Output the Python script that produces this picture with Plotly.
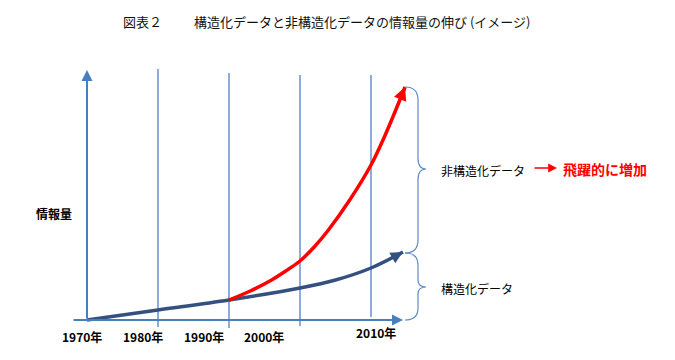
import plotly.graph_objects as go

# ---- data ----
struct_years = [1970, 1980, 1990, 2000, 2005, 2010, 2014.5]
struct_values = [0, 10, 20, 32, 40, 52, 68]
unstruct_years = [1990, 1993, 1996, 1998, 2000, 2002, 2004, 2007, 2010, 2012, 2014.8]
unstruct_values = [20, 29, 40, 49, 59, 73, 90, 120, 155, 185, 233]
tick_years = [1970, 1980, 1990, 2000, 2010]
tick_labels = ["1970年", "1980年", "1990年", "2000年", "2010年"]

OFF = 8  # page body margin
W, H = 675 - OFF, 360 - OFF
X0PX, PXPERYEAR = 87, 7.1
Y0PX = 320

def X(px):  # page pixel -> data x
    return 1970 + (px - X0PX) / PXPERYEAR

def Y(py):  # page pixel -> data y
    return Y0PX - py

def path(cmds):
    out = []
    for c in cmds:
        if isinstance(c, str):
            out.append(c)
        else:
            out.append(f"{X(c[0]):.4f},{Y(c[1]):.4f}")
    return " ".join(out)

FONT = "Noto Sans CJK JP"
AXC = "#4A7EBB"
GRIDC = "#4472C4"
BLUE = "#34507F"
RED = "#FF0000"

fig = go.Figure()

fig.add_trace(go.Scatter(x=struct_years, y=struct_values, mode="lines",
                         line=dict(color=BLUE, width=3.5, shape="spline", smoothing=1.0),
                         hoverinfo="skip", showlegend=False))
fig.add_trace(go.Scatter(x=unstruct_years, y=unstruct_values, mode="lines",
                         line=dict(color=RED, width=3.5, shape="spline", smoothing=1.0),
                         hoverinfo="skip", showlegend=False))

shapes = []
guide_spans = {1980: (69, 327), 1990: (73, 328), 2000: (75, 326), 2010: (75, 317)}
for yr in tick_years[1:]:
    top, bot = guide_spans[yr]
    shapes.append(dict(type="line", xref="x", yref="y", x0=yr, x1=yr, y0=Y(bot), y1=Y(top),
                       line=dict(color=GRIDC, width=1.2), layer="below"))

BR = "#5B8BC9"
shapes.append(dict(type="path", xref="x", yref="y", line=dict(color=BR, width=1.2),
                   path=path(["M", (405, 87), "Q", (418, 87), (418, 100), "L", (418, 158),
                              "Q", (418, 169), (426, 169), "Q", (418, 169), (418, 180),
                              "L", (418, 240), "Q", (418, 253), (405, 253)])))
shapes.append(dict(type="path", xref="x", yref="y", line=dict(color=BR, width=1.2),
                   path=path(["M", (405, 253), "Q", (418, 253), (418, 265), "L", (418, 280),
                              "Q", (418, 287), (426, 287), "Q", (418, 287), (418, 294),
                              "L", (418, 308), "Q", (418, 320), (405, 320)])))

ann = []
ann.append(dict(x=1970, y=Y(70), ax=1970, ay=Y(320), xref="x", yref="y", axref="x", ayref="y",
                text="", showarrow=True, arrowhead=2, arrowsize=1.1, arrowwidth=2, arrowcolor=AXC))
ann.append(dict(x=X(403), y=0, ax=X(72), ay=0, xref="x", yref="y", axref="x", ayref="y",
                text="", showarrow=True, arrowhead=2, arrowsize=1.1, arrowwidth=2, arrowcolor=AXC))
ann.append(dict(x=unstruct_years[-1], y=unstruct_values[-1], ax=X(401), ay=Y(97),
                xref="x", yref="y", axref="x", ayref="y", text="", showarrow=True,
                arrowhead=2, arrowsize=0.75, arrowwidth=3.5, arrowcolor=RED))
ann.append(dict(x=struct_years[-1], y=struct_values[-1], ax=X(394), ay=Y(257),
                xref="x", yref="y", axref="x", ayref="y", text="", showarrow=True,
                arrowhead=2, arrowsize=0.7, arrowwidth=3.5, arrowcolor=BLUE))
ann.append(dict(x=X(557), y=Y(168), ax=X(533), ay=Y(168), xref="x", yref="y", axref="x", ayref="y",
                text="", showarrow=True, arrowhead=2, arrowsize=1.1, arrowwidth=1.6, arrowcolor=RED))

label_px = [82, 143, 204, 264, 376]
label_py = [336, 336, 336, 336, 332]
for lab, lx, ly in zip(tick_labels, label_px, label_py):
    ann.append(dict(x=X(lx), y=Y(ly), xref="x", yref="y", text=f"<b>{lab}</b>", showarrow=False,
                    font=dict(family=FONT, size=12, color="#000"), xanchor="center", yanchor="middle"))

def txt(s, px, py, size, color="#000", bold=True, anchor="left"):
    return dict(x=X(px), y=Y(py), xref="x", yref="y", text=f"<b>{s}</b>" if bold else s,
                showarrow=False, font=dict(family=FONT, size=size, color=color),
                xanchor=anchor, yanchor="middle")

ann.append(txt("情報量", 34, 213, 12))
ann.append(txt("非構造化データ", 439, 170, 12, bold=False))
ann.append(txt("飛躍的に増加", 561, 169, 14, color=RED))
ann.append(txt("構造化データ", 439, 288, 12, bold=False))
ann.append(txt("図表２", 142, 21, 13, color="#111", bold=False, anchor="center"))
ann.append(txt("構造化データと非構造化データの情報量の伸び (イメージ)", 362, 21, 13, color="#111", bold=False, anchor="center"))

fig.update_layout(
    width=W, height=H, margin=dict(l=0, r=0, t=0, b=0),
    paper_bgcolor="white", plot_bgcolor="white",
    xaxis=dict(range=[X(OFF), X(675)], visible=False, fixedrange=True),
    yaxis=dict(range=[Y(360), Y(OFF)], visible=False, fixedrange=True),
    shapes=shapes, annotations=ann, showlegend=False,
)

fig.write_html("out.html")
